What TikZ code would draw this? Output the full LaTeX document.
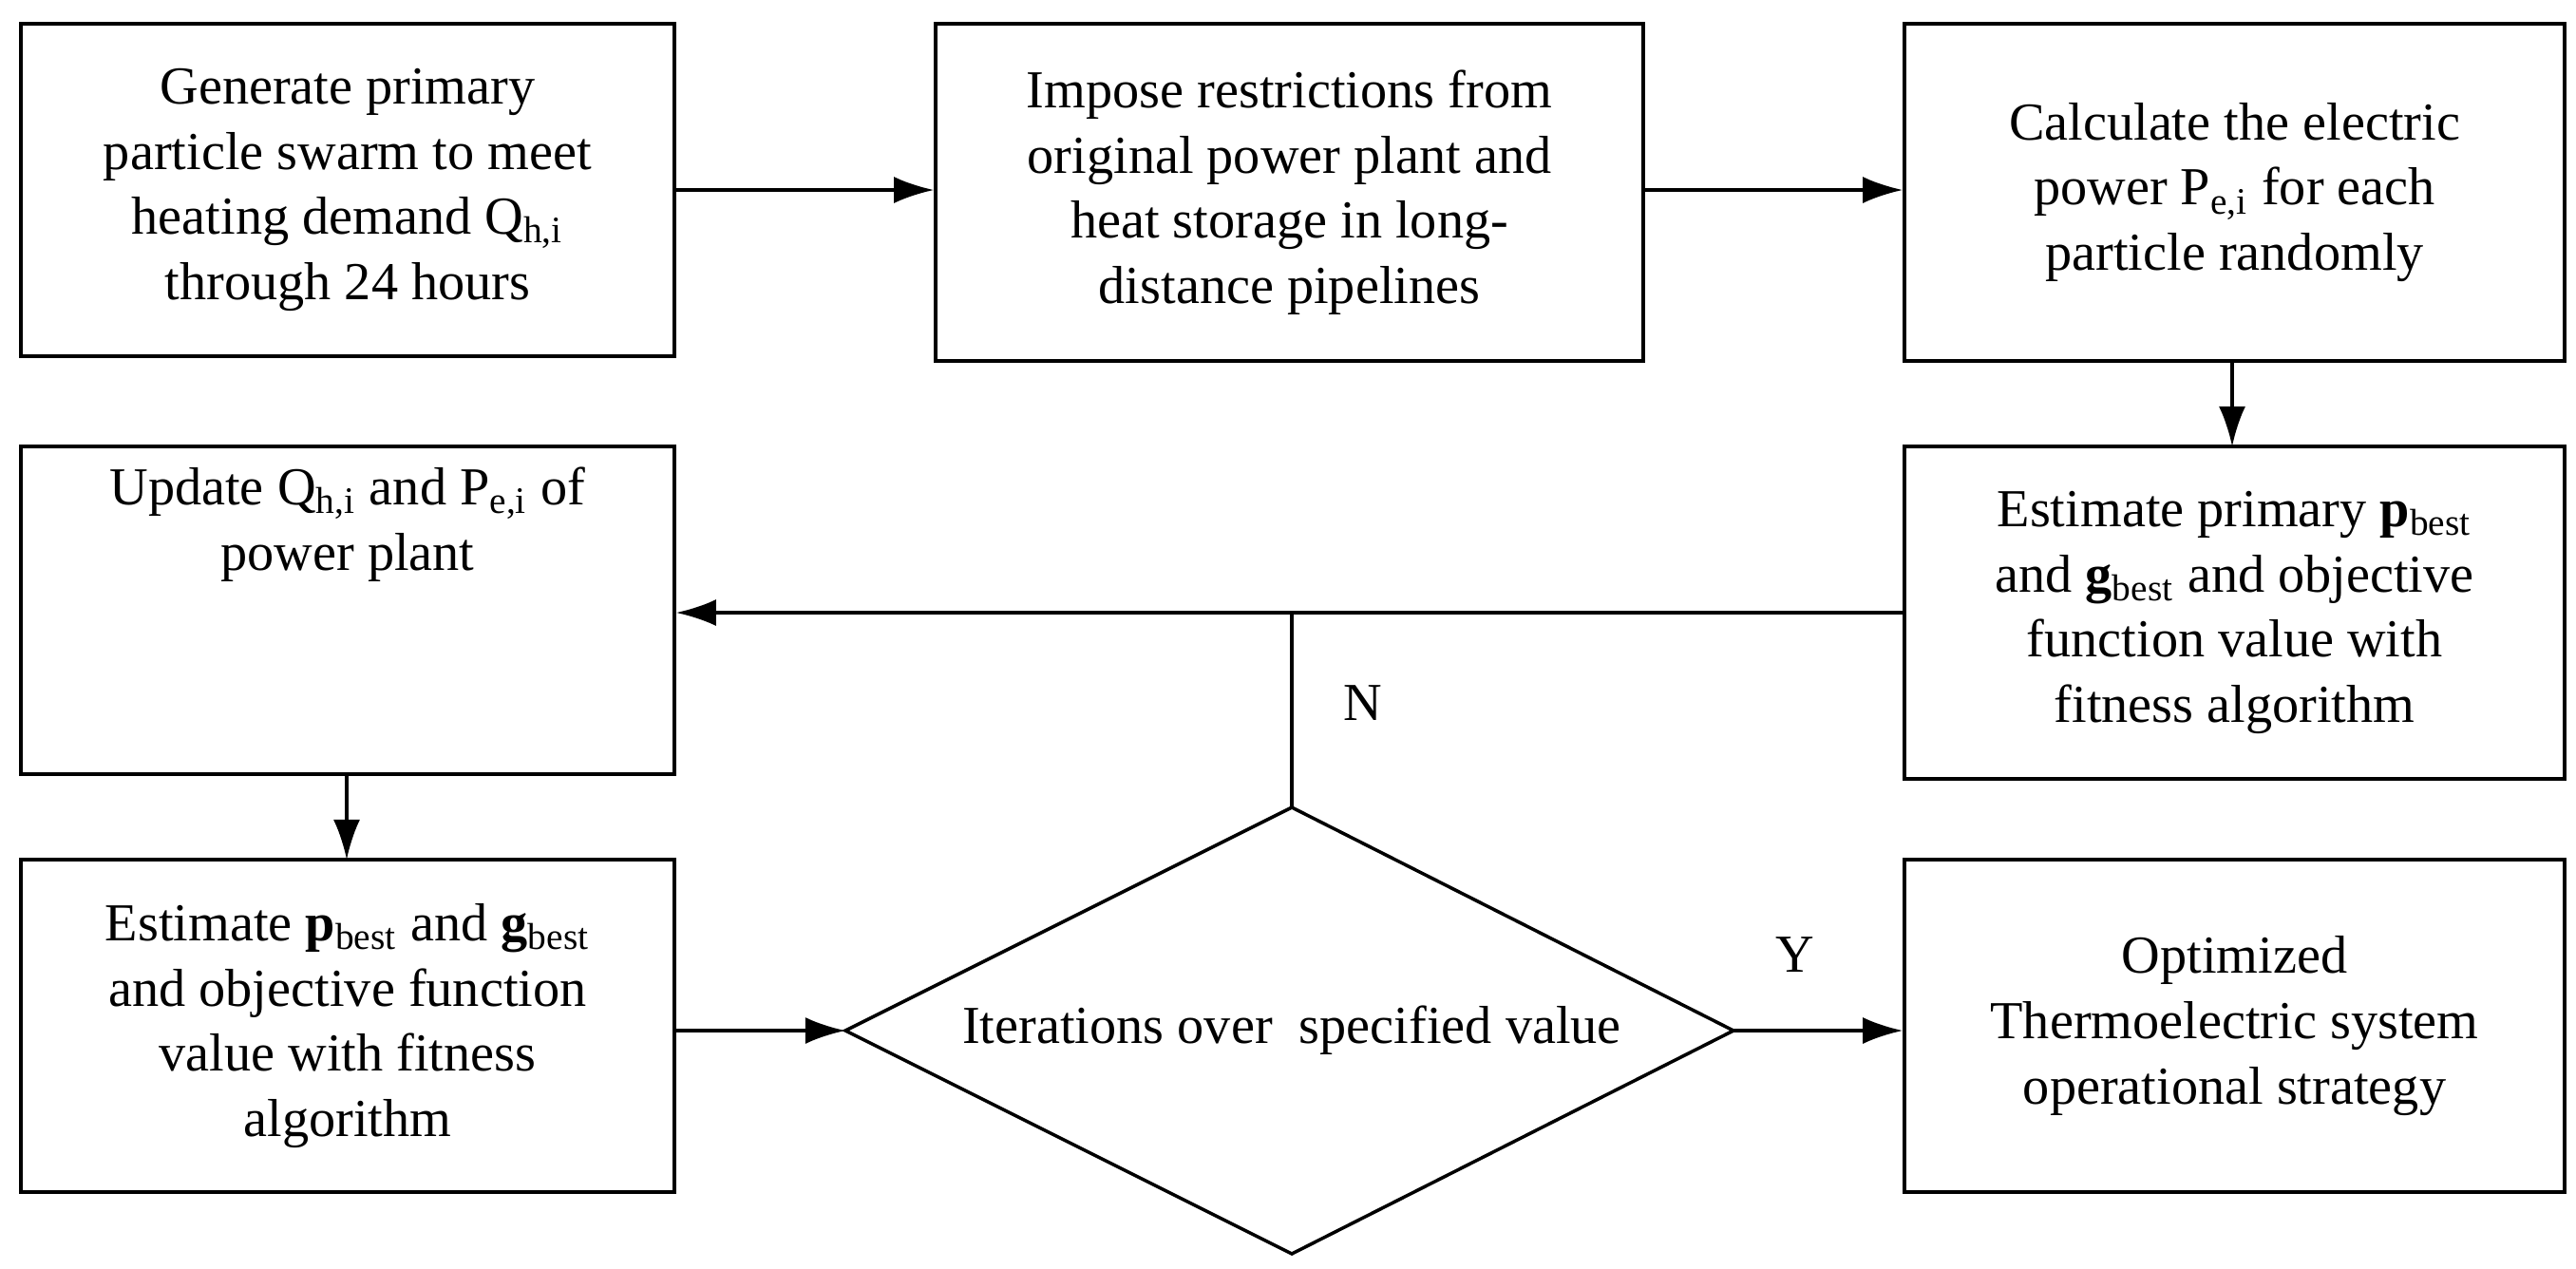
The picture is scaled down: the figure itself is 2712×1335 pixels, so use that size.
\documentclass[tikz,border=0pt]{standalone}
\usepackage{fontspec}
\setmainfont{Liberation Serif}
\usetikzlibrary{shapes.geometric,arrows.meta}
\begin{document}
\begin{tikzpicture}[x=0.01cm,y=-0.01cm,
  box/.style={draw,line width=1pt,align=center,inner sep=0pt,font=\fontsize{16}{19.5}\selectfont},
  arr/.style={line width=1pt,-{Latex[length=12pt,width=8pt]}},
  lab/.style={font=\fontsize{16}{19}\selectfont}]
\useasboundingbox (0,0) rectangle (2712,1335);
\newcommand\bx[6]{\node[box,minimum width=#4*0.01cm-#2*0.01cm,minimum height=#5*0.01cm-#3*0.01cm] (#1) at ({(#2+#4)/2},{(#3+#5)/2}) {#6};}
\bx{b1}{22}{25}{710}{375}{Generate primary\\particle swarm to meet\\heating demand Q\textsubscript{h,i}\\through 24 hours}
\bx{b2}{985}{25}{1730}{380}{Impose restrictions from\\original power plant and\\heat storage in long-\\distance pipelines}
\bx{b3}{2005}{25}{2700}{380}{Calculate the electric\\power P\textsubscript{e,i} for each\\particle randomly}
\bx{b4}{2005}{470}{2700}{820}{Estimate primary \textbf{p}\textsubscript{best}\\and \textbf{g}\textsubscript{best} and objective\\function value with\\fitness algorithm}
\bx{b5}{22}{470}{710}{815}{Update Q\textsubscript{h,i} and P\textsubscript{e,i} of\\power plant\\[2.2em]}
\bx{b6}{22}{905}{710}{1255}{Estimate \textbf{p}\textsubscript{best} and \textbf{g}\textsubscript{best}\\and objective function\\value with fitness\\algorithm}
\bx{b7}{2005}{905}{2700}{1255}{Optimized\\Thermoelectric system\\operational strategy}
\coordinate (dt) at (1360,850);
\coordinate (db) at (1360,1320);
\coordinate (dl) at (890,1085);
\coordinate (dr) at (1825,1085);
\draw[line width=1pt] (dt) -- (dr) -- (db) -- (dl) -- cycle;
\node[lab] (dtext) at (1360,1085) {Iterations over\ \ specified value};
\draw[arr] (b1.east|-0,200) -- (b2.west|-0,200);
\draw[arr] (b2.east|-0,200) -- (b3.west|-0,200);
\draw[arr] (2350,380) -- (2350,470);
\draw[arr] (b4.west|-0,645) -- (b5.east|-0,645);
\draw[line width=1pt] (dt) -- (1360,645);
\draw[arr] (365,815) -- (365,905);
\draw[arr] (b6.east|-dl) -- (dl);
\draw[arr] (dr) -- (b7.west|-dr);
\node[lab] (n) at (1435,740) {N};
\node[lab] (y) at (1890,1005) {Y};
\end{tikzpicture}
\end{document}
